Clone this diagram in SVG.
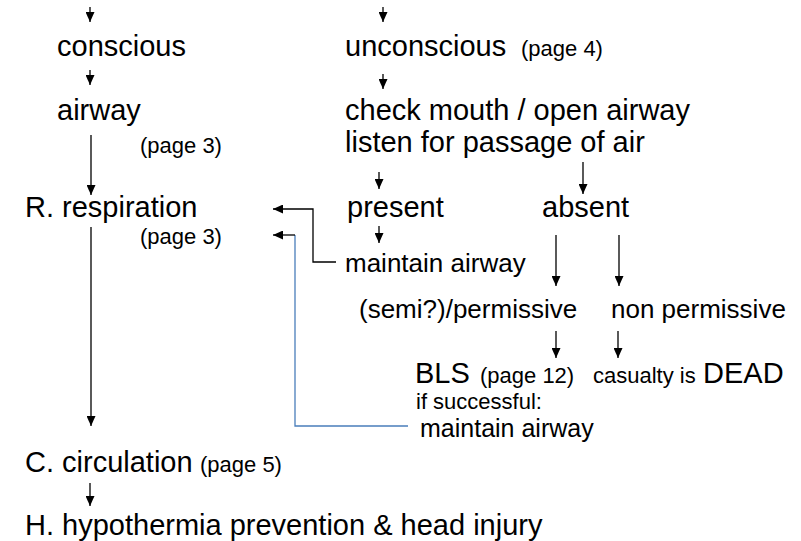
<svg xmlns="http://www.w3.org/2000/svg" width="801" height="541" viewBox="0 0 801 541">
<style>
text{font-family:"Liberation Sans",Arial,sans-serif;fill:#000}
.l{font-size:29px}
.m{font-size:26px}
.s{font-size:22px}
.c{fill:none;stroke:#000;stroke-width:1.3}
.b{fill:none;stroke:#4a7ebb;stroke-width:1.3}
</style>
<defs>
<marker id="ah" viewBox="0 0 10 9" markerWidth="10" markerHeight="9" refX="10" refY="4.5" orient="auto" markerUnits="userSpaceOnUse">
<path d="M0,0 L10,4.5 L0,9 z" fill="#000"/>
</marker>
</defs>
<rect width="801" height="541" fill="#fff"/>
<g id="connectors">
<path class="c" d="M90,7 V22" marker-end="url(#ah)"/>
<path class="c" d="M383,7 V22" marker-end="url(#ah)"/>
<path class="c" d="M90,70 V85" marker-end="url(#ah)"/>
<path class="c" d="M383,74 V89" marker-end="url(#ah)"/>
<path class="c" d="M91,135 V195" marker-end="url(#ah)"/>
<path class="c" d="M379,172 V189" marker-end="url(#ah)"/>
<path class="c" d="M583,162 V194" marker-end="url(#ah)"/>
<path class="c" d="M91,227 V426" marker-end="url(#ah)"/>
<path class="c" d="M336,262 H313 V209 H273" marker-end="url(#ah)"/>
<path class="b" d="M408,426 H295 V235"/>
<path class="c" d="M295,235 H273" marker-end="url(#ah)"/>
<path class="c" d="M379,226 V243" marker-end="url(#ah)"/>
<path class="c" d="M556,235 V286" marker-end="url(#ah)"/>
<path class="c" d="M619,235 V286" marker-end="url(#ah)"/>
<path class="c" d="M556,331 V358" marker-end="url(#ah)"/>
<path class="c" d="M618,331 V358" marker-end="url(#ah)"/>
<path class="c" d="M90,483 V506" marker-end="url(#ah)"/>
</g>
<g id="conscious"><text class="l" x="57" y="56">conscious</text></g>
<g id="unconscious"><text class="l" x="345" y="56">unconscious</text><text class="s" x="521" y="56">(page 4)</text></g>
<g id="airway"><text class="l" x="57" y="120">airway</text><text class="s" x="140" y="153">(page 3)</text></g>
<g id="check"><text class="l" x="345" y="120">check mouth / open airway</text><text class="l" x="345" y="152">listen for passage of air</text></g>
<g id="respiration"><text class="l" x="25" y="217">R. respiration</text><text class="s" x="140" y="244">(page 3)</text></g>
<g id="present"><text class="l" x="347" y="217">present</text></g>
<g id="absent"><text class="l" x="542" y="217">absent</text></g>
<g id="maintain1"><text class="m" x="345" y="272">maintain airway</text></g>
<g id="permissive"><text class="m" x="359" y="318">(semi?)/permissive</text></g>
<g id="nonpermissive"><text class="m" x="611" y="318">non permissive</text></g>
<g id="bls"><text class="l" x="415" y="383">BLS</text><text class="s" x="480" y="383">(page 12)</text><text class="s" x="416" y="409">if successful:</text><text class="m" x="420" y="437" style="font-size:25px">maintain airway</text></g>
<g id="dead"><text class="s" x="593" y="383">casualty is</text><text class="l" x="703" y="383">DEAD</text></g>
<g id="circulation"><text class="l" x="25" y="472">C. circulation</text><text class="s" x="200" y="472">(page 5)</text></g>
<g id="hypothermia"><text class="l" x="25" y="535">H. hypothermia prevention &amp; head injury</text></g>
</svg>
